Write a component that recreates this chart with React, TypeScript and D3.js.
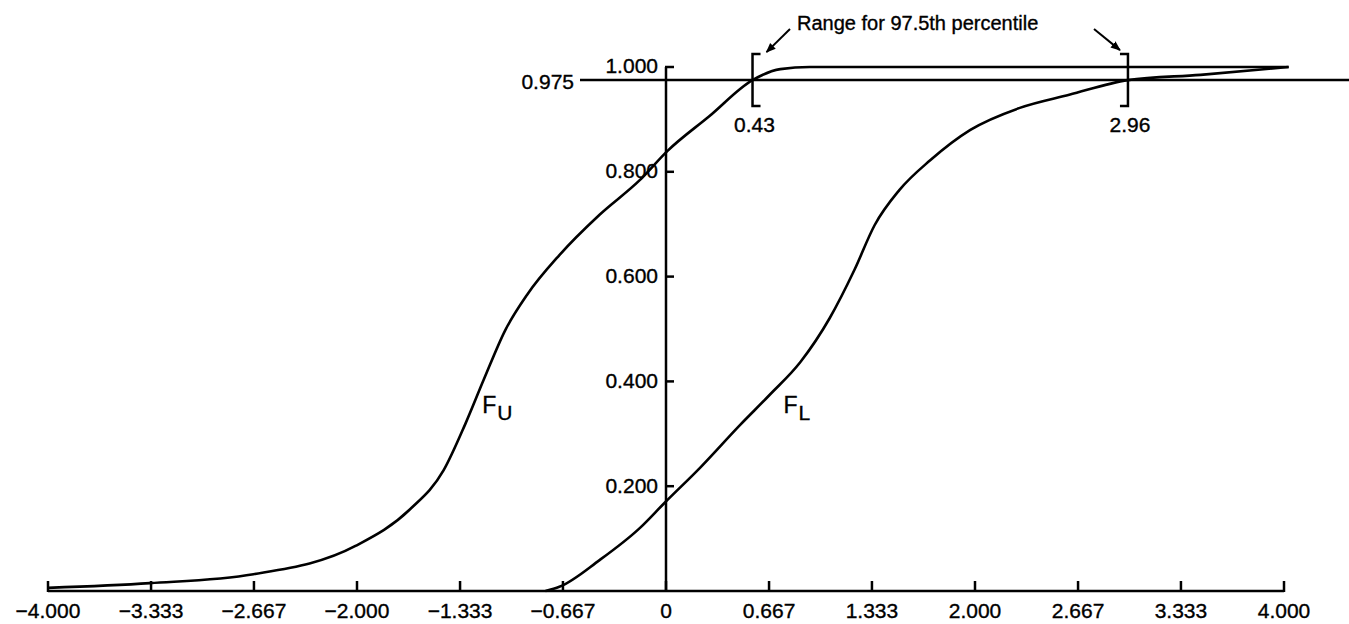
import React, { useEffect, useRef } from "react";
import * as d3 from "d3";

// F_U (upper bound cdf)
const fuX = [-4.0, -3.34, -2.67, -2.01, -1.66, -1.44, -1.3, -1.18, -1.04, -0.9, -0.69, -0.43, -0.17, 0.01, 0.28, 0.56, 0.74, 0.93, 1.3, 4.03];
const fuY = [0.006, 0.015, 0.032, 0.086, 0.155, 0.23, 0.318, 0.403, 0.498, 0.565, 0.641, 0.718, 0.784, 0.84, 0.906, 0.975, 0.996, 1.0, 1.0, 1.0];

// F_L (lower bound cdf)
const flX = [-0.78, -0.69, -0.43, -0.17, -0.01, 0.22, 0.48, 0.67, 0.87, 1.06, 1.22, 1.35, 1.51, 1.71, 1.97, 2.29, 2.61, 2.99, 3.46, 4.03];
const flY = [0.0, 0.008, 0.059, 0.12, 0.168, 0.235, 0.317, 0.374, 0.437, 0.521, 0.613, 0.698, 0.765, 0.822, 0.88, 0.922, 0.947, 0.975, 0.985, 1.0];

const xTicks = [-4, -3.333, -2.667, -2, -1.333, -0.667, 0, 0.667, 1.333, 2, 2.667, 3.333, 4];
const xTickLabels = ["\u22124.000", "\u22123.333", "\u22122.667", "\u22122.000", "\u22121.333", "\u22120.667", "0", "0.667", "1.333", "2.000", "2.667", "3.333", "4.000"];
const yTicks = [0.2, 0.4, 0.6, 0.8, 1.0];
const yTickLabels = ["0.200", "0.400", "0.600", "0.800", "1.000"];

const level = 0.975;
// where the brackets sit on the picture, and what they are labelled
const bracketX = [0.56, 2.99];
const bracketLabels = ["0.43", "2.96"];

const font = "'Liberation Sans', Arial, sans-serif";

const App = () => {
  const ref = useRef<SVGSVGElement>(null);
  const width = 1349;
  const height = 624;

  useEffect(() => {
    const svg = d3.select(ref.current);
    svg.selectAll("*").remove();

    const x = d3.scaleLinear().domain([-4, 4]).range([48, 1284]);
    const y = d3.scaleLinear().domain([0, 1]).range([591, 67]);

    const label = (sel: any, size: number) =>
      sel
        .style("font-family", font)
        .style("font-size", `${size}px`)
        .attr("fill", "black")
        .attr("stroke", "black")
        .attr("stroke-width", 0.35);

    svg
      .append("defs")
      .append("marker")
      .attr("id", "arrow")
      .attr("viewBox", "0 0 10 10")
      .attr("refX", 9)
      .attr("refY", 5)
      .attr("markerWidth", 5)
      .attr("markerHeight", 5)
      .attr("orient", "auto")
      .append("path")
      .attr("d", "M0,1 L10,5 L0,9 Z")
      .attr("fill", "black");

    // x axis
    const xAxis = svg.append("g");
    xAxis
      .append("line")
      .attr("x1", x(-4))
      .attr("x2", x(4))
      .attr("y1", y(0))
      .attr("y2", y(0))
      .attr("stroke", "black")
      .attr("stroke-width", 2.5);
    xAxis
      .selectAll("line.tick")
      .data(xTicks)
      .join("line")
      .attr("class", "tick")
      .attr("x1", (d) => x(d))
      .attr("x2", (d) => x(d))
      .attr("y1", y(0) + 1)
      .attr("y2", y(0) - 10)
      .attr("stroke", "black")
      .attr("stroke-width", 2.5);
    label(
      xAxis
        .selectAll("text")
        .data(xTicks)
        .join("text")
        .attr("x", (d) => x(d))
        .attr("y", 618)
        .attr("text-anchor", "middle")
        .text((d, i) => xTickLabels[i]),
      21
    );

    // y axis
    const x0 = x(0);
    const yAxis = svg.append("g");
    yAxis
      .append("line")
      .attr("x1", x0)
      .attr("x2", x0)
      .attr("y1", y(0))
      .attr("y2", y(1))
      .attr("stroke", "black")
      .attr("stroke-width", 2.5);
    yAxis
      .selectAll("line.tick")
      .data(yTicks)
      .join("line")
      .attr("class", "tick")
      .attr("x1", x0 - 1)
      .attr("x2", x0 + 8)
      .attr("y1", (d) => y(d))
      .attr("y2", (d) => y(d))
      .attr("stroke", "black")
      .attr("stroke-width", 2.5);
    label(
      yAxis
        .selectAll("text")
        .data(yTicks)
        .join("text")
        .attr("x", x0 - 8)
        .attr("y", (d) => y(d))
        .attr("dy", "0.3em")
        .attr("text-anchor", "end")
        .text((d, i) => yTickLabels[i]),
      21
    );

    // 0.975 level line
    svg
      .append("line")
      .attr("x1", 580)
      .attr("x2", width)
      .attr("y1", y(level))
      .attr("y2", y(level))
      .attr("stroke", "black")
      .attr("stroke-width", 2.5);
    label(
      svg
        .append("text")
        .attr("x", 574)
        .attr("y", y(level))
        .attr("dy", "0.42em")
        .attr("text-anchor", "end")
        .text("0.975"),
      21
    );

    // curves
    const line = d3
      .line<number>()
      .x((d) => x(d))
      .curve(d3.curveMonotoneX);

    svg
      .append("path")
      .attr("d", line.y((d, i) => y(fuY[i]))(fuX))
      .attr("fill", "none")
      .attr("stroke", "black")
      .attr("stroke-width", 2.6);
    svg
      .append("path")
      .attr("d", line.y((d, i) => y(flY[i]))(flX))
      .attr("fill", "none")
      .attr("stroke", "black")
      .attr("stroke-width", 2.6);

    // curve labels
    const curveLabel = (lx: number, ly: number, sub: string) => {
      const t = label(
        svg.append("text").attr("x", x(lx)).attr("y", y(ly)),
        23
      );
      t.append("tspan").text("F");
      t.append("tspan").attr("dx", 1).attr("dy", 7).style("font-size", "21px").text(sub);
    };
    curveLabel(-1.19, 0.34, "U");
    curveLabel(0.76, 0.34, "L");

    // brackets
    const yc = y(level);
    bracketX.forEach((bx, i) => {
      const px = x(bx);
      const dir = i === 0 ? 8 : -8;
      svg
        .append("path")
        .attr("d", `M${px + dir},${yc - 26} H${px} V${yc + 26} H${px + dir}`)
        .attr("fill", "none")
        .attr("stroke", "black")
        .attr("stroke-width", 2.5);
      label(
        svg
          .append("text")
          .attr("x", px + 2)
          .attr("y", yc + 52)
          .attr("text-anchor", "middle")
          .text(bracketLabels[i]),
        21
      );
    });

    // range annotation
    label(
      svg.append("text").attr("x", 797).attr("y", 30).text("Range for 97.5th percentile"),
      20
    );
    svg
      .append("line")
      .attr("x1", 790)
      .attr("y1", 29)
      .attr("x2", x(bracketX[0]) + 14)
      .attr("y2", yc - 28)
      .attr("stroke", "black")
      .attr("stroke-width", 2)
      .attr("marker-end", "url(#arrow)");
    svg
      .append("line")
      .attr("x1", 1094)
      .attr("y1", 29)
      .attr("x2", x(bracketX[1]) - 8)
      .attr("y2", yc - 30)
      .attr("stroke", "black")
      .attr("stroke-width", 2)
      .attr("marker-end", "url(#arrow)");
  }, []);

  return (
    <svg
      ref={ref}
      width={width}
      height={height}
      style={{ position: "absolute", left: 0, top: 0, background: "white" }}
    />
  );
};

export default App;
